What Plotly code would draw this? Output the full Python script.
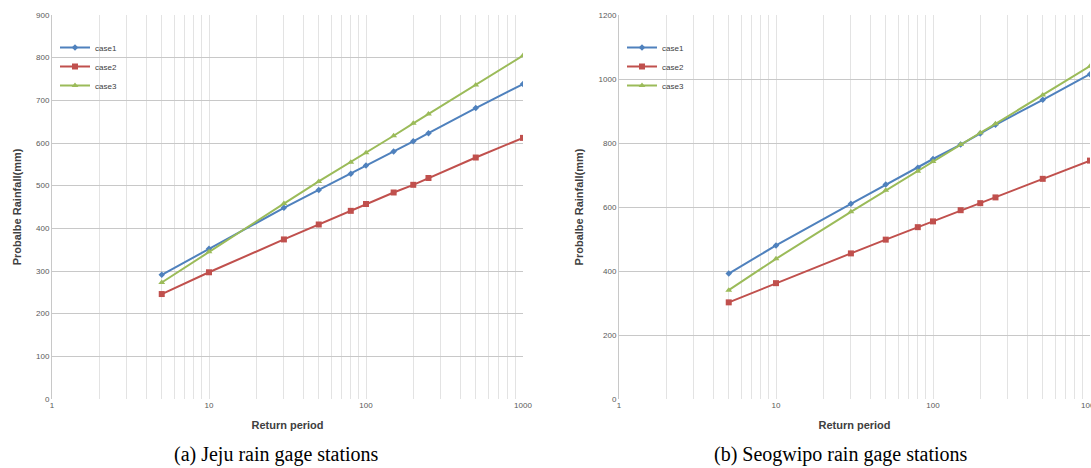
import plotly.graph_objects as go

return_period = [5, 10, 30, 50, 80, 100, 150, 200, 250, 500, 1000]

jeju_case1 = [291, 352, 448, 490, 528, 547, 580, 604, 623, 682, 738]
jeju_case2 = [246, 297, 374, 409, 441, 457, 484, 502, 518, 566, 612]
jeju_case3 = [273, 345, 458, 510, 555, 577, 617, 646, 668, 736, 805]

seog_case1 = [392, 480, 610, 670, 723, 750, 795, 830, 857, 935, 1015]
seog_case2 = [302, 362, 455, 498, 537, 555, 590, 612, 630, 688, 745]
seog_case3 = [340, 438, 585, 652, 712, 742, 795, 832, 860, 950, 1040]

x_grid_vals = [m * d for d in (1, 10, 100) for m in range(1, 10)] + [1000]
x_tick_text = [str(v) if v in (1, 10, 100, 1000) else "" for v in x_grid_vals]

captions = ["(a) Jeju rain gage stations", "(b) Seogwipo rain gage stations"]

colors = ["#4F81BD", "#C0504D", "#9BBB59"]
symbols = ["diamond", "square", "triangle-up"]
msizes = [5, 6, 6]
names = ["case1", "case2", "case3"]

fig = go.Figure()

for i, ys in enumerate([jeju_case1, jeju_case2, jeju_case3]):
    fig.add_trace(go.Scatter(x=return_period, y=ys, mode="lines+markers", name=names[i],
                             line=dict(color=colors[i], width=2),
                             marker=dict(symbol=symbols[i], size=msizes[i], color=colors[i]),
                             xaxis="x", yaxis="y", legend="legend"))
for i, ys in enumerate([seog_case1, seog_case2, seog_case3]):
    fig.add_trace(go.Scatter(x=return_period, y=ys, mode="lines+markers", name=names[i],
                             line=dict(color=colors[i], width=2),
                             marker=dict(symbol=symbols[i], size=msizes[i], color=colors[i]),
                             xaxis="x2", yaxis="y2", legend="legend2"))

tickfont = dict(family="Liberation Sans, Arial", size=8, color="#595959")
titlefont = dict(family="Liberation Sans, Arial", size=11, color="#404040")

xcommon = dict(type="log", range=[0, 3], tickvals=x_grid_vals, ticktext=x_tick_text,
               showgrid=True, gridcolor="#e3e3e3", gridwidth=1, zeroline=False,
               showline=False, ticks="", tickfont=tickfont, automargin=False,
               ticklabeloverflow="allow",
               title=dict(text="<b>Return period</b>", font=titlefont, standoff=12))
ycommon = dict(showgrid=True, gridcolor="#c8c8c8", gridwidth=1, zeroline=False,
               showline=True, linecolor="#c8c8c8", ticks="", tickfont=tickfont, automargin=False,
               title=dict(text="<b>Probalbe Rainfall(mm)</b>", font=titlefont, standoff=12))

plot_w = 1091 - 52
plot_h = 468 - 15 - 69

def px_x(px):
    return (px - 52) / plot_w

def px_y(py):
    return (468 - 69 - py) / plot_h

legend_font = dict(family="Liberation Sans, Arial", size=8, color="#404040")

fig.update_layout(
    width=1091, height=468,
    margin=dict(l=52, r=0, t=15, b=69),
    paper_bgcolor="white", plot_bgcolor="white",
    xaxis=dict(domain=[0, px_x(523)], anchor="y", **xcommon),
    yaxis=dict(domain=[0, 1], anchor="x", range=[0, 900], dtick=100, **ycommon),
    xaxis2=dict(domain=[px_x(619), px_x(1090)], anchor="y2", **xcommon),
    yaxis2=dict(domain=[0, 1], anchor="x2", range=[0, 1200], dtick=200, **ycommon),
    legend=dict(x=px_x(55), y=px_y(33), xanchor="left", yanchor="top",
                font=legend_font, bgcolor="rgba(0,0,0,0)", itemwidth=30, tracegroupgap=0),
    legend2=dict(x=px_x(622), y=px_y(33), xanchor="left", yanchor="top",
                 font=legend_font, bgcolor="rgba(0,0,0,0)", itemwidth=30, tracegroupgap=0),
    annotations=[
        dict(text=captions[0], x=px_x(276), y=px_y(454), xref="paper", yref="paper",
             xanchor="center", yanchor="middle", showarrow=False,
             font=dict(family="Liberation Serif, Times New Roman", size=20, color="black")),
        dict(text=captions[1], x=px_x(840), y=px_y(454), xref="paper", yref="paper",
             xanchor="center", yanchor="middle", showarrow=False,
             font=dict(family="Liberation Serif, Times New Roman", size=20, color="black")),
    ],
)

fig.write_html("out.html")
